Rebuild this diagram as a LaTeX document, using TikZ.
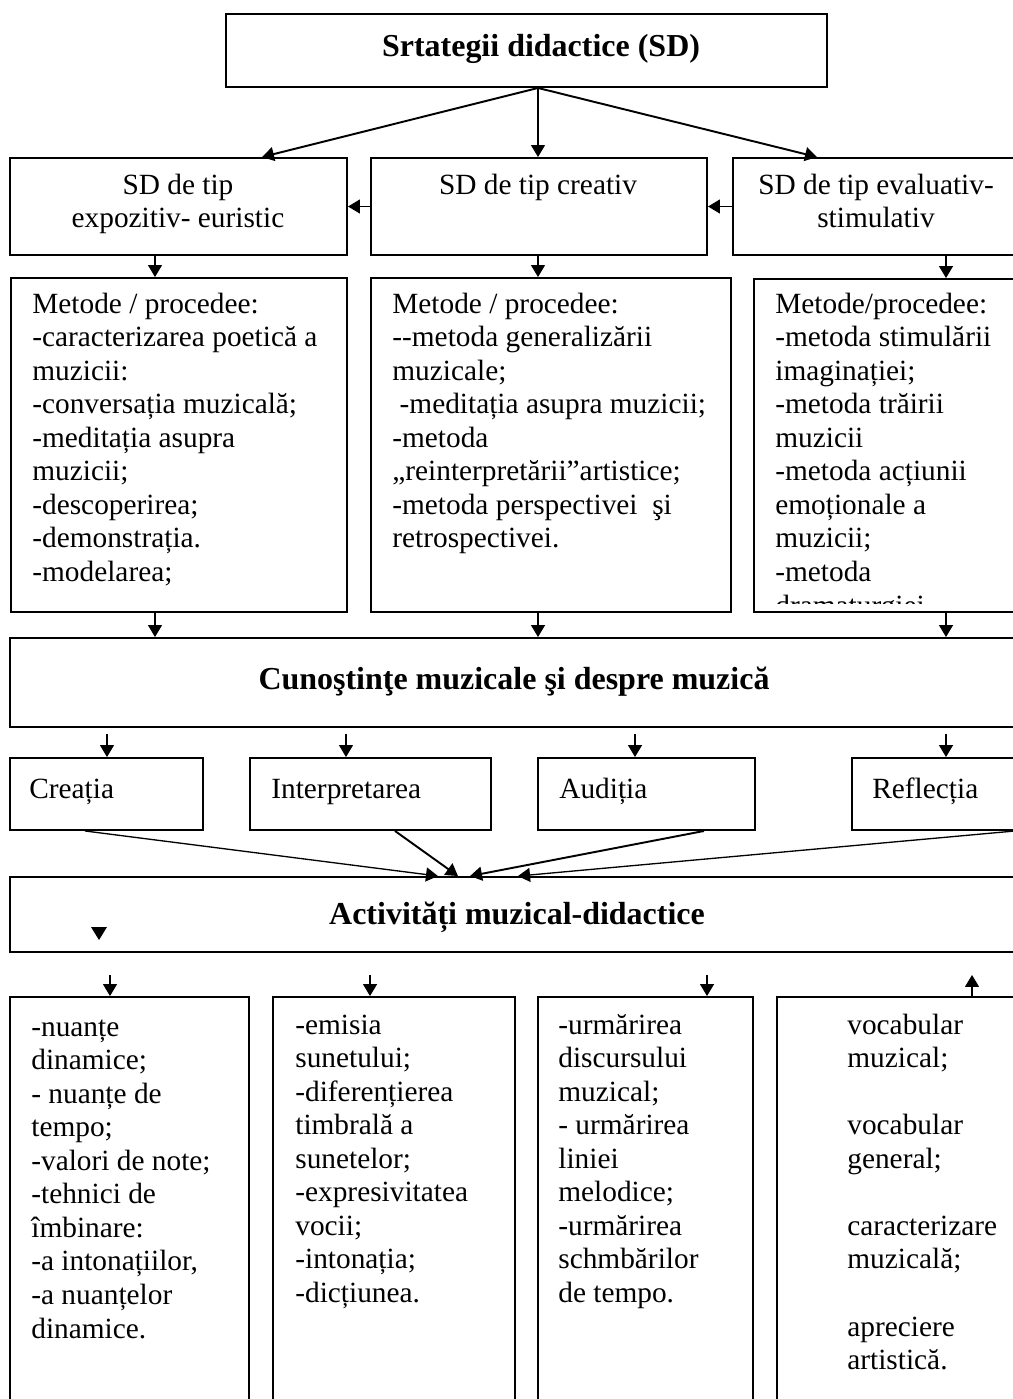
\documentclass[tikz,border=0pt]{standalone}
\usepackage{fontspec}
\setmainfont{Liberation Serif}
\usetikzlibrary{arrows.meta,calc,fit}
\newcommand{\regfont}{\fontsize{16.7}{19.1}\selectfont}
\newcommand{\headfont}{\fontsize{18.2}{21}\selectfont\bfseries}
\newcommand{\leftlines}[1]{\parbox[t]{8cm}{\raggedright #1}}
\newcommand{\midlines}[1]{\parbox[t]{8cm}{\centering #1}}
\tikzset{
  box/.style = {draw=black, line width=1.1pt, inner sep=0pt},
  txt/.style = {inner sep=0pt, anchor=base west, font=\regfont},
  ctxt/.style = {inner sep=0pt, anchor=base, font=\regfont},
  head/.style = {inner sep=0pt, anchor=base, font=\headfont},
  arr/.style = {-{Triangle[length=0.24cm, width=0.28cm]}, line width=0.75pt},
  arr_b/.style = {arr, line width=1.1pt},
}

\begin{document}
\begin{tikzpicture}[x=0.02cm, y=-0.02cm]
  \useasboundingbox (0,0) rectangle (1013,1399);

  % arrow columns
  \coordinate (xa) at (155,0);
  \coordinate (xb) at (538,0);
  \coordinate (xc) at (946,0);
  \coordinate (ya) at (262,0);
  \coordinate (yc) at (817,0);
  \coordinate (p1) at (107,0);
  \coordinate (p2) at (346,0);
  \coordinate (p3) at (635,0);
  \coordinate (q1) at (85,0);
  \coordinate (q2) at (395,0);
  \coordinate (q3) at (704,0);
  \coordinate (q4) at (1015,0);
  \coordinate (r1) at (438,0);
  \coordinate (r2) at (458,0);
  \coordinate (r3) at (470,0);
  \coordinate (r4) at (518,0);
  \coordinate (t1) at (110,0);
  \coordinate (t2) at (370,0);
  \coordinate (t3) at (707,0);
  \coordinate (t4) at (972,0);

  \node [box, fit={(226,14) (827,87)}] (sd) {};
  \node [head] (sd_t) at (541,57) {Srtategii didactice (SD)};

  \node [box, fit={(10,158) (347,255)}] (ex) {};
  \node [box, fit={(371,158) (707,255)}] (cr) {};
  \node [box, fit={(733,158) (1020,255)}] (ev) {};
  \node [ctxt] (ex_t) at (178,194) {\midlines{SD de tip\\expozitiv- euristic}};
  \node [ctxt] (cr_t) at (538,194) {\midlines{SD de tip creativ}};
  \node [ctxt] (ev_t) at (876,194) {\midlines{SD de tip evaluativ-\\stimulativ}};

  \node [box, fit={(11,278) (347,612)}] (m1) {};
  \node [box, fit={(371,278) (731,612)}] (m2) {};
  \node [box, fit={(754,279) (1020,612)}] (m3) {};
  \node [txt] (m1_t) at (32,313) {\leftlines{Metode / procedee:\\
    -caracterizarea poetică a\\ muzicii:\\ -conversația muzicală;\\
    -meditația asupra\\ muzicii;\\ -descoperirea;\\ -demonstrația.\\ -modelarea;}};
  \node [txt] (m2_t) at (392,313) {\leftlines{Metode / procedee:\\
    -{}-metoda generalizării\\ muzicale;\\ \ -meditația asupra muzicii;\\
    -metoda\\ „reinterpretării”artistice;\\ -metoda perspectivei\ \ şi\\ retrospectivei.}};
  \begin{scope}
    \clip (754,279) rectangle (1020,603);
    \node [txt] (m3_t) at (775,313) {\leftlines{Metode/procedee:\\
      -metoda stimulării\\ imaginației;\\ -metoda trăirii\\ muzicii\\
      -metoda acțiunii\\ emoționale a\\ muzicii;\\ -metoda\\ dramaturgiei}};
  \end{scope}

  \node [box, fit={(10,638) (1020,727)}] (cun) {};
  \node [head] (cun_t) at (514,689) {Cunoştinţe muzicale şi despre muzică};

  \node [box, fit={(10,758) (203,830)}] (cre) {};
  \node [box, fit={(250,758) (491,830)}] (int) {};
  \node [box, fit={(538,758) (755,830)}] (aud) {};
  \node [box, fit={(852,758) (1020,830)}] (ref) {};
  \node [txt] (cre_t) at (29,798) {Creația};
  \node [txt] (int_t) at (271,798) {Interpretarea};
  \node [txt] (aud_t) at (559,798) {Audiția};
  \node [txt] (ref_t) at (872,798) {Reflecția};

  \node [box, fit={(10,877) (1020,952)}] (act) {};
  \node [head] (act_t) at (517,924) {Activități muzical-didactice};
  \fill (91,927) -- (107,927) -- (99,940) -- cycle;

  \node [box, fit={(10,997) (249,1420)}] (b1) {};
  \node [box, fit={(273,997) (515,1420)}] (b2) {};
  \node [box, fit={(538,997) (753,1420)}] (b3) {};
  \node [box, fit={(777,997) (1020,1420)}] (b4) {};
  \node [txt] (b1_t) at (31,1036) {\leftlines{-nuanțe\\ dinamice;\\ - nuanțe de\\ tempo;\\
    -valori de note;\\ -tehnici de\\ îmbinare:\\ -a intonațiilor,\\ -a nuanțelor\\ dinamice.}};
  \node [txt] (b2_t) at (295,1034) {\leftlines{-emisia\\ sunetului;\\ -diferențierea\\
    timbrală a\\ sunetelor;\\ -expresivitatea\\ vocii;\\ -intonația;\\ -dicțiunea.}};
  \node [txt] (b3_t) at (558,1034) {\leftlines{-urmărirea\\ discursului\\ muzical;\\
    - urmărirea\\ liniei\\ melodice;\\ -urmărirea\\ schmbărilor\\ de tempo.}};
  \node [txt] (b4_t) at (847,1034) {\leftlines{vocabular\\ muzical;\\[\baselineskip]
    vocabular\\ general;\\[\baselineskip] caracterizare\\ muzicală;\\[\baselineskip]
    apreciere\\ artistică.}};

  \draw [arr_b] (sd.south -| xb) -- (ex.north -| ya);
  \draw [arr] (sd.south -| xb) -- (cr.north -| xb);
  \draw [arr_b] (sd.south -| xb) -- (ev.north -| yc);
  \draw [arr] (cr.west) -- (ex.east);
  \draw [arr] (ev.west) -- (cr.east);

  \draw [arr] (ex.south -| xa) -- (m1.north -| xa);
  \draw [arr] (cr.south -| xb) -- (m2.north -| xb);
  \draw [arr] (ev.south -| xc) -- (m3.north -| xc);
  \draw [arr] (m1.south -| xa) -- (cun.north -| xa);
  \draw [arr] (m2.south -| xb) -- (cun.north -| xb);
  \draw [arr] (m3.south -| xc) -- (cun.north -| xc);

  \draw [arr, shorten <=0.12cm] (cun.south -| p1) -- (cre.north -| p1);
  \draw [arr, shorten <=0.12cm] (cun.south -| p2) -- (int.north -| p2);
  \draw [arr, shorten <=0.12cm] (cun.south -| p3) -- (aud.north -| p3);
  \draw [arr, shorten <=0.12cm] (cun.south -| xc) -- (ref.north -| xc);

  \draw [arr] (cre.south -| q1) -- (act.north -| r1);
  \draw [arr_b] (int.south -| q2) -- (act.north -| r2);
  \draw [arr_b] (aud.south -| q3) -- (act.north -| r3);
  \draw [arr] (ref.south -| q4) -- (act.north -| r4);

  \draw [arr, shorten <=0.44cm] (act.south -| t1) -- (b1.north -| t1);
  \draw [arr, shorten <=0.44cm] (act.south -| t2) -- (b2.north -| t2);
  \draw [arr, shorten <=0.44cm] (act.south -| t3) -- (b3.north -| t3);
  \draw [arr, shorten >=0.44cm] (b4.north -| t4) -- (act.south -| t4);
\end{tikzpicture}
\end{document}
